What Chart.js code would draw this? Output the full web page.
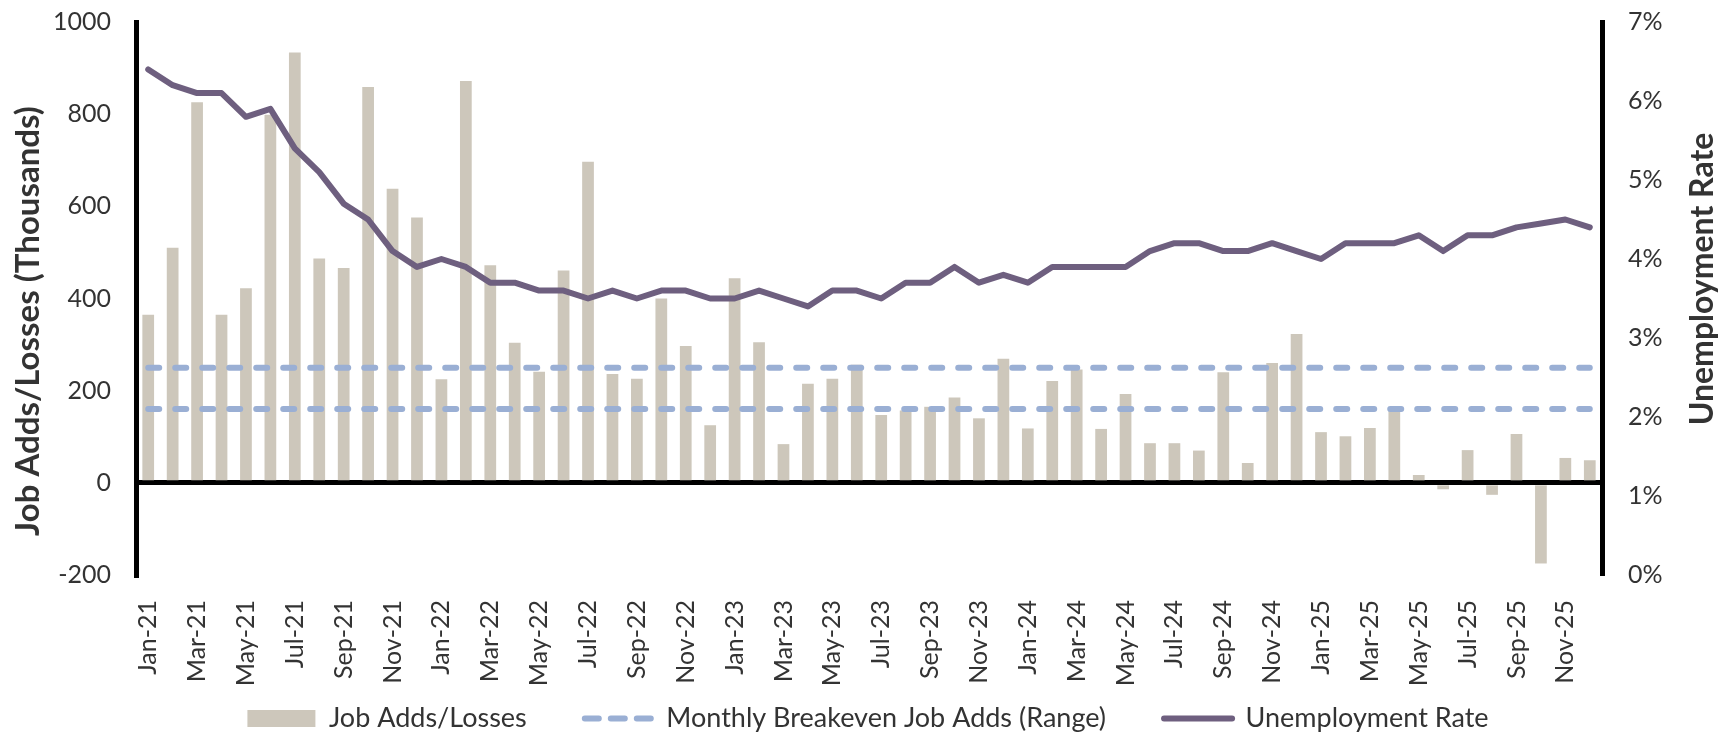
<!DOCTYPE html>
<html>
<head>
<meta charset="utf-8">
<script src="https://cdn.jsdelivr.net/npm/chart.js@4.4.1/dist/chart.umd.min.js"></script>
<style>
  html, body { margin: 0; padding: 0; background: #ffffff; }
  #wrap { width: 1736px; height: 734px; position: relative; }
</style>
</head>
<body>
<div id="wrap"><canvas id="c" width="1736" height="734"></canvas></div>
<script>
// ---------- DATA ----------
const months = [
  'Jan-21','Feb-21','Mar-21','Apr-21','May-21','Jun-21','Jul-21','Aug-21','Sep-21','Oct-21','Nov-21','Dec-21',
  'Jan-22','Feb-22','Mar-22','Apr-22','May-22','Jun-22','Jul-22','Aug-22','Sep-22','Oct-22','Nov-22','Dec-22',
  'Jan-23','Feb-23','Mar-23','Apr-23','May-23','Jun-23','Jul-23','Aug-23','Sep-23','Oct-23','Nov-23','Dec-23',
  'Jan-24','Feb-24','Mar-24','Apr-24','May-24','Jun-24','Jul-24','Aug-24','Sep-24','Oct-24','Nov-24','Dec-24',
  'Jan-25','Feb-25','Mar-25','Apr-25','May-25','Jun-25','Jul-25','Aug-25','Sep-25','Oct-25','Nov-25','Dec-25'
];

const jobAdds = [
  365, 510, 826, 365, 422, 799, 934, 487, 466, 859, 638, 576,
  225, 872, 472, 304, 241, 461, 697, 236, 226, 400, 297, 125,
  444, 305,  84, 215, 226, 256, 147, 157, 165, 185, 140, 269,
  118, 221, 246, 117, 193,  86,  86,  70, 240,  43, 260, 323,
  110, 101, 119, 157,  17, -14,  71, -26, 106, -175, 54,  49
];

const unemploymentRate = [
  6.4, 6.2, 6.1, 6.1, 5.8, 5.9, 5.4, 5.1, 4.7, 4.5, 4.1, 3.9,
  4.0, 3.9, 3.7, 3.7, 3.6, 3.6, 3.5, 3.6, 3.5, 3.6, 3.6, 3.5,
  3.5, 3.6, 3.5, 3.4, 3.6, 3.6, 3.5, 3.7, 3.7, 3.9, 3.7, 3.8,
  3.7, 3.9, 3.9, 3.9, 3.9, 4.1, 4.2, 4.2, 4.1, 4.1, 4.2, 4.1,
  4.0, 4.2, 4.2, 4.2, 4.3, 4.1, 4.3, 4.3, 4.4, 4.45, 4.5, 4.4
];

const breakevenHigh = 250;
const breakevenLow = 160;

const leftTicks = [-200, 0, 200, 400, 600, 800, 1000];
const rightTicks = [0, 1, 2, 3, 4, 5, 6, 7];

const seriesNames = ['Job Adds/Losses', 'Monthly Breakeven Job Adds (Range)', 'Unemployment Rate'];
const leftTitle = 'Job Adds/Losses (Thousands)';
const rightTitle = 'Unemployment Rate';

// ---------- STYLE ----------
const BAR_COLOR = '#CDC7BB';
const DASH_COLOR = '#9AAFD4';
const LINE_COLOR = '#6E5F7F';
const TEXT_COLOR = '#333333';
const FONT = 'Lato, "Open Sans", sans-serif';

const titlePlugin = {
  id: 'axisTitles',
  afterDraw(chart) {
    const ctx = chart.ctx;
    ctx.save();
    ctx.fillStyle = TEXT_COLOR;
    ctx.textAlign = 'center';
    ctx.textBaseline = 'middle';
    ctx.save();
    ctx.font = 'bold 33px ' + FONT;
    ctx.translate(28, 321);
    ctx.rotate(-Math.PI / 2);
    ctx.fillText(leftTitle, 0, 0);
    ctx.restore();
    ctx.save();
    ctx.font = 'bold 32px ' + FONT;
    ctx.translate(1703, 279);
    ctx.rotate(-Math.PI / 2);
    ctx.fillText(rightTitle, 0, 0);
    ctx.restore();
    ctx.restore();
  }
};

const noEdgePadding = (scale) => { scale.paddingTop = 0; scale.paddingBottom = 0; };

const ctx = document.getElementById('c').getContext('2d');
new Chart(ctx, {
  data: {
    labels: months,
    datasets: [
      {
        type: 'bar',
        label: seriesNames[0],
        data: jobAdds,
        backgroundColor: BAR_COLOR,
        borderWidth: 0,
        barPercentage: 0.48,
        categoryPercentage: 1.0,
        yAxisID: 'y',
        order: 3
      },
      {
        type: 'line',
        label: seriesNames[1],
        data: months.map(() => breakevenHigh),
        borderColor: DASH_COLOR,
        borderWidth: 6,
        borderDash: [11, 16],
        borderCapStyle: 'round',
        pointRadius: 0,
        fill: false,
        yAxisID: 'y',
        order: 2
      },
      {
        type: 'line',
        label: seriesNames[1] + ' low',
        data: months.map(() => breakevenLow),
        borderColor: DASH_COLOR,
        borderWidth: 6,
        borderDash: [11, 16],
        borderCapStyle: 'round',
        pointRadius: 0,
        fill: false,
        yAxisID: 'y',
        order: 2
      },
      {
        type: 'line',
        label: seriesNames[2],
        data: unemploymentRate,
        borderColor: LINE_COLOR,
        borderWidth: 6,
        borderJoinStyle: 'round',
        borderCapStyle: 'round',
        pointRadius: 0,
        tension: 0,
        fill: false,
        yAxisID: 'y1',
        order: 1
      }
    ]
  },
  options: {
    responsive: false,
    animation: false,
    devicePixelRatio: 1,
    layout: { padding: { top: 22, left: 0, right: 0, bottom: -8 } },
    plugins: {
      tooltip: { enabled: false },
      legend: {
        position: 'bottom',
        labels: {
          color: TEXT_COLOR,
          font: { family: FONT, size: 27 },
          usePointStyle: true,
          pointStyleWidth: 68,
          boxHeight: 17,
          padding: 58,
          generateLabels: () => [
            { text: seriesNames[0], fillStyle: BAR_COLOR, strokeStyle: BAR_COLOR, lineWidth: 0, pointStyle: 'rect', datasetIndex: 0, fontColor: TEXT_COLOR },
            { text: seriesNames[1], fillStyle: DASH_COLOR, strokeStyle: DASH_COLOR, lineWidth: 6, lineDash: [14, 12], lineCap: 'round', pointStyle: 'line', datasetIndex: 1, fontColor: TEXT_COLOR },
            { text: seriesNames[2], fillStyle: LINE_COLOR, strokeStyle: LINE_COLOR, lineWidth: 6, lineCap: 'round', pointStyle: 'line', datasetIndex: 3, fontColor: TEXT_COLOR }
          ]
        }
      }
    },
    scales: {
      x: {
        type: 'category',
        grid: { display: false, drawTicks: false },
        border: { display: false },
        ticks: {
          autoSkip: false,
          maxRotation: 90,
          minRotation: 90,
          padding: 25,
          color: TEXT_COLOR,
          font: { family: FONT, size: 25 },
          callback: function (value, index) {
            return index % 2 === 0 ? this.getLabelForValue(value) : '';
          }
        },
        afterFit: (scale) => { scale.height = 72; },
        // let the rotated month labels run below the axis box (no clipping)
        afterUpdate: (scale) => { scale._computeLabelArea = () => undefined; }
      },
      y: {
        position: 'left',
        min: leftTicks[0],
        max: leftTicks[leftTicks.length - 1],
        z: 1,
        afterBuildTicks: (scale) => { scale.ticks = leftTicks.map(v => ({ value: v })); },
        ticks: {
          padding: 25,
          color: TEXT_COLOR,
          font: { family: FONT, size: 25 },
          callback: (v) => String(v)
        },
        grid: {
          drawTicks: false,
          lineWidth: 5,
          color: (c) => (c.tick && c.tick.value === 0 ? '#000000' : 'rgba(0,0,0,0)')
        },
        border: { display: true, color: '#000000', width: 5 },
        afterFit: (scale) => { scale.width = 136; noEdgePadding(scale); }
      },
      y1: {
        position: 'right',
        min: rightTicks[0],
        max: rightTicks[rightTicks.length - 1],
        afterBuildTicks: (scale) => { scale.ticks = rightTicks.map(v => ({ value: v })); },
        ticks: {
          padding: 26,
          color: TEXT_COLOR,
          font: { family: FONT, size: 25 },
          callback: (v) => v + '%'
        },
        grid: { drawOnChartArea: false, drawTicks: false },
        border: { display: true, color: '#000000', width: 5 },
        afterFit: (scale) => { scale.width = 134; noEdgePadding(scale); }
      }
    }
  },
  plugins: [titlePlugin]
});
</script>
</body>
</html>
